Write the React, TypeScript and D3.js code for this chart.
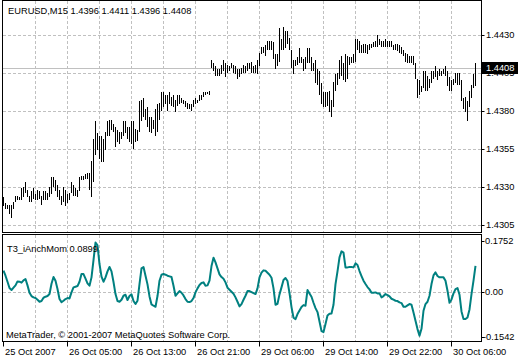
import * as React from 'react';
import * as d3 from 'd3';

// EURUSD M15 bars, high / low per bar
const highs = [
  1.4323, 1.4319, 1.4318, 1.4318, 1.4318, 1.4320, 1.4324, 1.4324, 1.4323, 1.4329,
  1.4330, 1.4333, 1.4328, 1.4324, 1.4327, 1.4329, 1.4325, 1.4328, 1.4327, 1.4324,
  1.4327, 1.4327, 1.4326, 1.4330, 1.4336, 1.4336, 1.4334, 1.4331, 1.4328, 1.4324,
  1.4330, 1.4328, 1.4325, 1.4326, 1.4333, 1.4331, 1.4329, 1.4328, 1.4336, 1.4337,
  1.4337, 1.4338, 1.4339, 1.4339, 1.4347, 1.4361, 1.4373, 1.4365, 1.4363, 1.4363,
  1.4361, 1.4366, 1.4373, 1.4374, 1.4374, 1.4371, 1.4369, 1.4367, 1.4366, 1.4366,
  1.4373, 1.4373, 1.4369, 1.4369, 1.4373, 1.4373, 1.4368, 1.4367, 1.4386, 1.4387,
  1.4388, 1.4381, 1.4382, 1.4376, 1.4376, 1.4374, 1.4381, 1.4384, 1.4385, 1.4392,
  1.4392, 1.4390, 1.4390, 1.4392, 1.4389, 1.4390, 1.4387, 1.4390, 1.4390, 1.4388,
  1.4387, 1.4386, 1.4385, 1.4384, 1.4384, 1.4387, 1.4388, 1.4387, 1.4390, 1.4390,
  1.4392, 1.4392, 1.4392, 1.4393, 1.4413, 1.4411, 1.4409, 1.4407, 1.4407, 1.4410,
  1.4413, 1.4411, 1.4410, 1.4409, 1.4411, 1.4410, 1.4409, 1.4407, 1.4407, 1.4408,
  1.4410, 1.4409, 1.4411, 1.4411, 1.4412, 1.4409, 1.4410, 1.4413, 1.4418, 1.4422,
  1.4422, 1.4423, 1.4426, 1.4426, 1.4426, 1.4425, 1.4417, 1.4417, 1.4434, 1.4427,
  1.4435, 1.4432, 1.4432, 1.4428, 1.4420, 1.4413, 1.4413, 1.4415, 1.4421, 1.4415,
  1.4414, 1.4415, 1.4421, 1.4421, 1.4415, 1.4411, 1.4413, 1.4407, 1.4406, 1.4398,
  1.4392, 1.4392, 1.4392, 1.4393, 1.4387, 1.4399, 1.4404, 1.4405, 1.4413, 1.4416,
  1.4411, 1.4417, 1.4416, 1.4415, 1.4415, 1.4417, 1.4427, 1.4427, 1.4426, 1.4423,
  1.4424, 1.4424, 1.4423, 1.4424, 1.4424, 1.4425, 1.4426, 1.4430, 1.4427, 1.4426,
  1.4426, 1.4427, 1.4426, 1.4426, 1.4426, 1.4423, 1.4424, 1.4424, 1.4423, 1.4422,
  1.4420, 1.4418, 1.4417, 1.4416, 1.4416, 1.4416, 1.4411, 1.4401, 1.4400, 1.4396,
  1.4406, 1.4406, 1.4403, 1.4401, 1.4406, 1.4406, 1.4409, 1.4406, 1.4407, 1.4406,
  1.4407, 1.4409, 1.4406, 1.4402, 1.4400, 1.4401, 1.4405, 1.4405, 1.4405, 1.4400,
  1.4388, 1.4389, 1.4386, 1.4393, 1.4397, 1.4404, 1.4411,
];

const lows = [
  1.4317, 1.4315, 1.4315, 1.4312, 1.4309, 1.4315, 1.4320, 1.4321, 1.4321, 1.4321,
  1.4323, 1.4326, 1.4323, 1.4320, 1.4320, 1.4322, 1.4321, 1.4321, 1.4322, 1.4318,
  1.4321, 1.4321, 1.4321, 1.4323, 1.4325, 1.4330, 1.4327, 1.4323, 1.4321, 1.4318,
  1.4320, 1.4317, 1.4319, 1.4321, 1.4326, 1.4324, 1.4324, 1.4323, 1.4327, 1.4334,
  1.4334, 1.4335, 1.4335, 1.4328, 1.4323, 1.4333, 1.4351, 1.4354, 1.4348, 1.4346,
  1.4346, 1.4354, 1.4363, 1.4363, 1.4367, 1.4366, 1.4356, 1.4359, 1.4358, 1.4361,
  1.4363, 1.4365, 1.4361, 1.4359, 1.4358, 1.4355, 1.4359, 1.4360, 1.4366, 1.4373,
  1.4376, 1.4374, 1.4369, 1.4366, 1.4365, 1.4368, 1.4363, 1.4366, 1.4374, 1.4380,
  1.4382, 1.4384, 1.4380, 1.4384, 1.4383, 1.4382, 1.4379, 1.4383, 1.4384, 1.4385,
  1.4384, 1.4382, 1.4381, 1.4381, 1.4380, 1.4382, 1.4384, 1.4385, 1.4386, 1.4387,
  1.4389, 1.4390, 1.4391, 1.4390, 1.4408, 1.4406, 1.4403, 1.4403, 1.4403, 1.4404,
  1.4406, 1.4402, 1.4405, 1.4406, 1.4408, 1.4405, 1.4404, 1.4401, 1.4402, 1.4404,
  1.4405, 1.4405, 1.4406, 1.4407, 1.4405, 1.4405, 1.4405, 1.4404, 1.4409, 1.4417,
  1.4418, 1.4416, 1.4420, 1.4420, 1.4420, 1.4414, 1.4407, 1.4409, 1.4412, 1.4420,
  1.4420, 1.4421, 1.4424, 1.4420, 1.4408, 1.4404, 1.4409, 1.4410, 1.4411, 1.4411,
  1.4406, 1.4407, 1.4411, 1.4411, 1.4406, 1.4406, 1.4398, 1.4397, 1.4390, 1.4384,
  1.4382, 1.4382, 1.4383, 1.4379, 1.4376, 1.4382, 1.4393, 1.4397, 1.4401, 1.4403,
  1.4400, 1.4399, 1.4401, 1.4410, 1.4411, 1.4411, 1.4412, 1.4420, 1.4418, 1.4418,
  1.4418, 1.4418, 1.4417, 1.4420, 1.4421, 1.4422, 1.4422, 1.4422, 1.4423, 1.4422,
  1.4422, 1.4422, 1.4422, 1.4422, 1.4422, 1.4420, 1.4420, 1.4419, 1.4418, 1.4417,
  1.4416, 1.4412, 1.4411, 1.4411, 1.4411, 1.4410, 1.4401, 1.4388, 1.4390, 1.4392,
  1.4395, 1.4393, 1.4393, 1.4395, 1.4398, 1.4401, 1.4402, 1.4400, 1.4403, 1.4403,
  1.4404, 1.4403, 1.4396, 1.4393, 1.4393, 1.4397, 1.4398, 1.4397, 1.4397, 1.4386,
  1.4381, 1.4379, 1.4373, 1.4382, 1.4388, 1.4395, 1.4396,
];

// T3_iAnchMom indicator, one value per bar
const momentum = [
  0.0733, 0.0561, 0.0355, 0.0137, 0.0069, 0.0149, 0.0229, 0.0366, 0.0355, 0.0321,
  0.0401, 0.0447, 0.0229, -0.0023, -0.0137, -0.0183, -0.0206, -0.0263, -0.0332, -0.0309,
  -0.0195, -0.0160, -0.0137, -0.0069, 0.0286, 0.0515, 0.0389, 0.0103, -0.0240, -0.0344,
  -0.0298, -0.0240, -0.0206, -0.0218, -0.0011, 0.0160, 0.0183, 0.0206, 0.0355, 0.0618,
  0.0618, 0.0458, 0.0298, 0.0218, 0.0504, 0.1099, 0.1700, 0.1600, 0.0962, 0.0527,
  0.0355, 0.0504, 0.0710, 0.0859, 0.0710, 0.0344, -0.0069, -0.0309, -0.0332, -0.0263,
  -0.0126, -0.0092, -0.0275, -0.0137, -0.0080, -0.0309, -0.0412, -0.0298, 0.0275, 0.0813,
  0.0859, 0.0561, 0.0263, -0.0149, -0.0424, -0.0469, -0.0504, -0.0137, 0.0389, 0.0595,
  0.0618, 0.0595, 0.0561, 0.0538, 0.0515, 0.0218, -0.0126, -0.0046, 0.0034, -0.0023,
  -0.0115, -0.0240, -0.0332, -0.0344, -0.0309, -0.0206, -0.0011, 0.0126, 0.0240, 0.0309,
  0.0332, 0.0218, 0.0229, 0.0389, 0.0893, 0.1179, 0.1019, 0.0813, 0.0607, 0.0515,
  0.0458, 0.0332, 0.0149, 0.0080, 0.0011, -0.0057, -0.0183, -0.0332, -0.0492, -0.0412,
  -0.0263, -0.0126, 0.0034, 0.0034, 0.0000, -0.0034, -0.0069, 0.0126, 0.0504, 0.0664,
  0.0744, 0.0733, 0.0664, 0.0595, 0.0492, 0.0126, -0.0435, -0.0401, -0.0080, 0.0160,
  0.0412, 0.0481, 0.0378, -0.0034, -0.0515, -0.0882, -0.0928, -0.0756, -0.0630, -0.0515,
  -0.0447, -0.0469, 0.0069, -0.0046, -0.0160, -0.0366, -0.0550, -0.0687, -0.1008, -0.1340,
  -0.1374, -0.1099, -0.0802, -0.0744, -0.0733, -0.0435, 0.0275, 0.0710, 0.1191, 0.1397,
  0.1351, 0.0847, 0.0847, 0.0859, 0.0859, 0.0847, 0.0985, 0.0928, 0.0721, 0.0550,
  0.0389, 0.0275, 0.0172, 0.0092, -0.0023, -0.0023, -0.0011, -0.0046, -0.0046, -0.0183,
  -0.0137, -0.0069, -0.0103, -0.0149, -0.0229, -0.0263, -0.0298, -0.0309, -0.0355, -0.0378,
  -0.0504, -0.0504, -0.0458, -0.0412, -0.0435, -0.0698, -0.0985, -0.1271, -0.1500, -0.1260,
  -0.0641, -0.0412, -0.0332, -0.0126, 0.0275, 0.0573, 0.0676, 0.0550, 0.0504, 0.0504,
  0.0504, 0.0389, 0.0046, -0.0366, -0.0252, -0.0046, 0.0103, 0.0137, -0.0092, -0.0664,
  -0.0928, -0.0928, -0.0870, -0.0595, -0.0069, 0.0389, 0.0899,
];

const priceTicks = [1.4430, 1.4405, 1.4380, 1.4355, 1.4330, 1.4305];
const momTicks = [0.1752, 0, -0.1542];
const momTickLabels = ['0.1752', '0.00', '-0.1542'];
const timeLabels = [
  '25 Oct 2007', '26 Oct 05:00', '26 Oct 13:00', '26 Oct 21:00',
  '29 Oct 06:00', '29 Oct 14:00', '29 Oct 22:00', '30 Oct 06:00',
];
const lastPrice = 1.4408;
const title = 'EURUSD,M15  1.4396 1.4411 1.4396 1.4408';
const indicatorTitle = 'T3_iAnchMom 0.0899';

const W = 520;
const H = 360;
const left = 2.5;
const right = 481.5;
const main = { top: 0.5, bottom: 232.5 };
const sub = { top: 234.5, bottom: 341.5 };
const font = '"Liberation Sans", Arial, sans-serif';
const grid = '#c0c0c0';

export default function App() {
  const n = highs.length;
  const x = d3.scaleLinear().domain([0, n - 1]).range([3, 3 + 2 * (n - 1)]);
  const y = d3.scaleLinear().domain([1.4305, 1.4430]).range([224.5, 34.5]);
  const ym = d3.scaleLinear().domain([-0.1542, 0.1752]).range([337, 241]);

  const gridIdx = d3.range(16, n, 16);
  const labelIdx = d3.range(0, n, 32);

  const line = d3
    .line<number>()
    .x((_, i) => x(i) + 0.5)
    .y(d => ym(d));

  return (
    <div style={{ position: 'absolute', left: 0, top: 0 }}>
      <svg width={W} height={H} style={{ display: 'block', background: '#fff' }}>
        <rect x={0} y={0} width={W} height={H} fill="#fff" />

        {/* grid, main panel */}
        <g stroke={grid} strokeDasharray="3,2" shapeRendering="crispEdges">
          {gridIdx.map(i => (
            <line key={'vm' + i} x1={x(i) + 0.5} x2={x(i) + 0.5} y1={main.top} y2={main.bottom} />
          ))}
          {priceTicks.map(p => (
            <line key={'h' + p} x1={left} x2={right} y1={Math.round(y(p)) + 0.5} y2={Math.round(y(p)) + 0.5} />
          ))}
          {gridIdx.map(i => (
            <line key={'vs' + i} x1={x(i) + 0.5} x2={x(i) + 0.5} y1={sub.top} y2={sub.bottom} />
          ))}
          <line x1={left} x2={right} y1={Math.round(ym(0)) + 0.5} y2={Math.round(ym(0)) + 0.5} />
        </g>

        {/* last price line */}
        <line
          x1={left}
          x2={right}
          y1={Math.round(y(lastPrice)) + 0.5}
          y2={Math.round(y(lastPrice)) + 0.5}
          stroke={grid}
          shapeRendering="crispEdges"
        />

        {/* bars */}
        <g fill="#000" shapeRendering="crispEdges">
          {highs.map((h, i) => (
            <rect
              key={i}
              x={x(i)}
              y={Math.round(y(h))}
              width={1}
              height={Math.max(1, Math.round(y(lows[i])) - Math.round(y(h)))}
            />
          ))}
        </g>

        {/* indicator */}
        <path d={line(momentum) || ''} fill="none" stroke="#008080" strokeWidth={2} strokeLinejoin="round" />

        {/* frames */}
        <g fill="none" stroke="#000" shapeRendering="crispEdges">
          <rect x={left} y={main.top} width={right - left} height={main.bottom - main.top} />
          <rect x={left} y={sub.top} width={right - left} height={sub.bottom - sub.top} />
        </g>

        {/* texts */}
        <g fontFamily={font} fontSize={9.3} fill="#000" style={{ whiteSpace: 'pre' }}>
          <text x={8} y={13.5}>{title}</text>
          <text x={7} y={251.5}>{indicatorTitle}</text>
          <text x={6} y={337.5}>MetaTrader, © 2001-2007 MetaQuotes Software Corp.</text>
        </g>

        {/* price axis */}
        <g fontFamily={font} fontSize={9.3} fill="#000">
          {priceTicks.map(p => (
            <g key={'pt' + p}>
              <line x1={right} x2={right + 3} y1={Math.round(y(p)) + 0.5} y2={Math.round(y(p)) + 0.5} stroke="#000" />
              <text x={486} y={y(p) + 3.3}>{p.toFixed(4)}</text>
            </g>
          ))}
          <rect x={482} y={Math.round(y(lastPrice)) - 6} width={36} height={12} fill="#000" />
          <text x={486} y={y(lastPrice) + 3.3} fill="#fff">{lastPrice.toFixed(4)}</text>

          {momTicks.map((v, i) => (
            <g key={'mt' + i}>
              <line x1={right} x2={right + 3} y1={Math.round(ym(v)) + 0.5} y2={Math.round(ym(v)) + 0.5} stroke="#000" />
              <text x={v < 0 ? 483 : 485} y={ym(v) + 3.3}>{momTickLabels[i]}</text>
            </g>
          ))}

          {labelIdx.map((i, k) => (
            <g key={'tl' + i}>
              <line x1={x(i) + 0.5} x2={x(i) + 0.5} y1={sub.bottom} y2={sub.bottom + 5} stroke="#000" />
              <text x={x(i) + 2} y={354.5}>{timeLabels[k]}</text>
            </g>
          ))}
        </g>
      </svg>
    </div>
  );
}
